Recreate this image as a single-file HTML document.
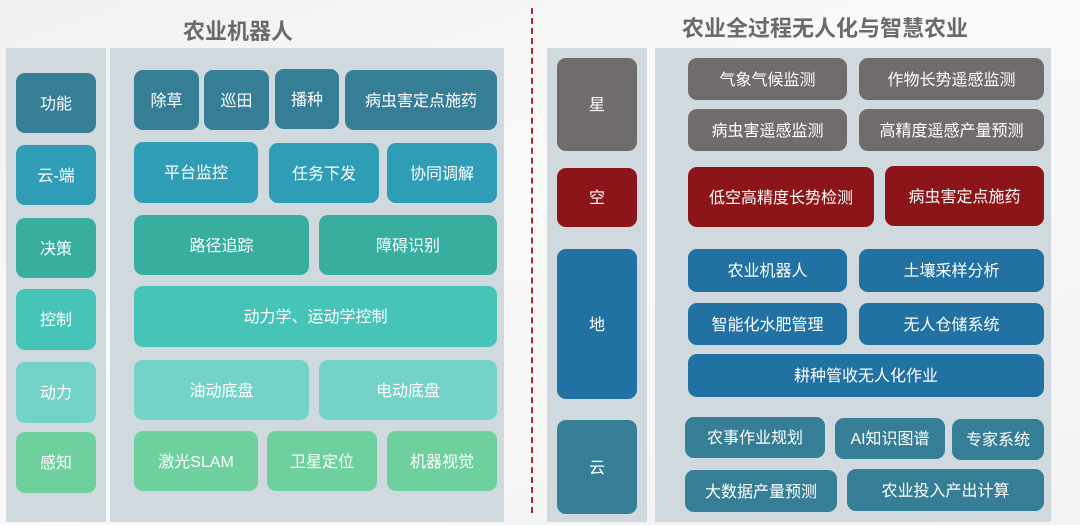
<!DOCTYPE html>
<html><head><meta charset="utf-8"><style>
body{margin:0;width:1080px;height:525px;overflow:hidden;background:linear-gradient(160deg,#f0f0f0 0%,#fafafa 40%,#f2f2f2 100%);position:relative;font-family:"Liberation Sans","Noto Sans CJK SC",sans-serif;}
.p{position:absolute;background:#d0dade;}
.b{position:absolute;display:flex;align-items:center;justify-content:center;color:#fff;font-size:16px;border-radius:9px;padding-bottom:3px;box-sizing:border-box;}
.t{position:absolute;font-weight:bold;font-size:22px;color:#6a6a6a;text-align:center;}
.c1{background:#357e96}.c2{background:#2f9db5}.c3{background:#37ae9f}.c4{background:#46c4b8}.c5{background:#73d3c8}.c6{background:#6dd09d}
.g{background:#716c6c}.r{background:#8b1519}.bl{background:#2271a3}.cl{background:#357e96}
</style></head><body>
<div class="t" style="left:138px;top:14px;width:200px;">农业机器人</div>
<div class="t" style="left:630px;top:11px;width:390px;">农业全过程无人化与智慧农业</div>
<div style="position:absolute;left:531px;top:8px;height:505px;border-left:2px dashed #b52530;"></div>

<div class="p" style="left:6px;top:48px;width:100px;height:474px;"></div>
<div class="p" style="left:110px;top:48px;width:394px;height:474px;"></div>
<div class="p" style="left:547px;top:48px;width:100px;height:474px;"></div>
<div class="p" style="left:655px;top:48px;width:396px;height:474px;"></div>

<div class="b c1" style="left:16px;top:73px;width:80px;height:60px;">功能</div>
<div class="b c2" style="left:16px;top:145px;width:80px;height:60px;">云-端</div>
<div class="b c3" style="left:16px;top:218px;width:80px;height:60px;">决策</div>
<div class="b c4" style="left:16px;top:289px;width:80px;height:61px;">控制</div>
<div class="b c5" style="left:16px;top:362px;width:80px;height:61px;">动力</div>
<div class="b c6" style="left:16px;top:432px;width:80px;height:61px;">感知</div>

<div class="b c1" style="left:134px;top:70px;width:65px;height:60px;">除草</div>
<div class="b c1" style="left:204px;top:70px;width:65px;height:60px;">巡田</div>
<div class="b c1" style="left:275px;top:69px;width:64px;height:60px;">播种</div>
<div class="b c1" style="left:345px;top:70px;width:152px;height:60px;">病虫害定点施药</div>
<div class="b c2" style="left:134px;top:142px;width:124px;height:61px;">平台监控</div>
<div class="b c2" style="left:269px;top:143px;width:110px;height:60px;">任务下发</div>
<div class="b c2" style="left:387px;top:143px;width:110px;height:60px;">协同调解</div>
<div class="b c3" style="left:134px;top:215px;width:175px;height:60px;">路径追踪</div>
<div class="b c3" style="left:319px;top:215px;width:178px;height:60px;">障碍识别</div>
<div class="b c4" style="left:134px;top:286px;width:363px;height:61px;">动力学、运动学控制</div>
<div class="b c5" style="left:134px;top:360px;width:175px;height:60px;">油动底盘</div>
<div class="b c5" style="left:319px;top:360px;width:178px;height:60px;">电动底盘</div>
<div class="b c6" style="left:134px;top:431px;width:124px;height:60px;">激光SLAM</div>
<div class="b c6" style="left:267px;top:431px;width:110px;height:60px;">卫星定位</div>
<div class="b c6" style="left:387px;top:431px;width:110px;height:60px;">机器视觉</div>

<div class="b g" style="left:557px;top:58px;width:80px;height:93px;">星</div>
<div class="b r" style="left:557px;top:168px;width:80px;height:59px;">空</div>
<div class="b bl" style="left:557px;top:249px;width:80px;height:150px;">地</div>
<div class="b cl" style="left:557px;top:420px;width:80px;height:94px;">云</div>

<div class="b g" style="left:688px;top:58px;width:159px;height:42px;">气象气候监测</div>
<div class="b g" style="left:859px;top:58px;width:185px;height:42px;">作物长势遥感监测</div>
<div class="b g" style="left:688px;top:109px;width:159px;height:42px;">病虫害遥感监测</div>
<div class="b g" style="left:859px;top:109px;width:185px;height:42px;">高精度遥感产量预测</div>
<div class="b r" style="left:688px;top:167px;width:186px;height:60px;">低空高精度长势检测</div>
<div class="b r" style="left:885px;top:166px;width:159px;height:60px;">病虫害定点施药</div>
<div class="b bl" style="left:688px;top:249px;width:159px;height:43px;">农业机器人</div>
<div class="b bl" style="left:859px;top:249px;width:185px;height:43px;">土壤采样分析</div>
<div class="b bl" style="left:688px;top:303px;width:159px;height:42px;">智能化水肥管理</div>
<div class="b bl" style="left:859px;top:303px;width:185px;height:42px;">无人仓储系统</div>
<div class="b bl" style="left:688px;top:354px;width:356px;height:43px;">耕种管收无人化作业</div>
<div class="b cl" style="left:685px;top:417px;width:140px;height:41px;">农事作业规划</div>
<div class="b cl" style="left:835px;top:418px;width:110px;height:41px;">AI知识图谱</div>
<div class="b cl" style="left:952px;top:419px;width:92px;height:41px;">专家系统</div>
<div class="b cl" style="left:685px;top:470px;width:152px;height:42px;">大数据产量预测</div>
<div class="b cl" style="left:847px;top:469px;width:197px;height:42px;">农业投入产出计算</div>
</body></html>
